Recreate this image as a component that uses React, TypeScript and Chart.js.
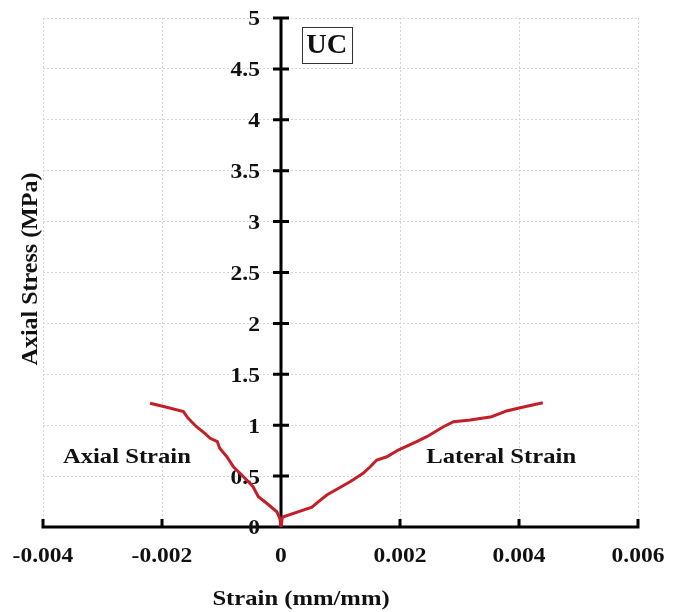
import React, { useEffect, useRef } from "react";
import { Chart, registerables } from "chart.js";

Chart.register(...registerables);

// Uniaxial compression test: axial stress vs. axial / lateral strain
const axialStrain = [0, -0.00002, -0.00007, -0.00024, -0.00038, -0.00047, -0.00063, -0.0008, -0.00091, -0.00103, -0.00107, -0.00119, -0.00128, -0.00142, -0.00156, -0.00164, -0.00192, -0.0022];
const axialStress = [0, 0.085, 0.15, 0.233, 0.298, 0.396, 0.494, 0.592, 0.69, 0.773, 0.838, 0.871, 0.92, 0.985, 1.068, 1.133, 1.176, 1.215];

const lateralStrain = [0, 0.00002, 0.00004, 0.00052, 0.00063, 0.00077, 0.00116, 0.00138, 0.0015, 0.00161, 0.00178, 0.00197, 0.00228, 0.00245, 0.00273, 0.0029, 0.00318, 0.00354, 0.00379, 0.00402, 0.0044];
const lateralStress = [0, 0.085, 0.1, 0.194, 0.249, 0.314, 0.445, 0.527, 0.592, 0.658, 0.69, 0.756, 0.838, 0.887, 0.985, 1.034, 1.051, 1.083, 1.14, 1.172, 1.221];

const xTicks = [-0.004, -0.002, 0, 0.002, 0.004, 0.006];
const xTickLabels = ["-0.004", "-0.002", "0", "0.002", "0.004", "0.006"];
const yTicks = [0, 0.5, 1, 1.5, 2, 2.5, 3, 3.5, 4, 4.5, 5];
const yTickLabels = ["0", "0.5", "1", "1.5", "2", "2.5", "3", "3.5", "4", "4.5", "5"];

const xTitle = "Strain (mm/mm)";
const yTitle = "Axial Stress (MPa)";
const testLabel = "UC";
const axialLabel = "Axial Strain";
const lateralLabel = "Lateral Strain";

const FONT = '"Liberation Serif", Tinos, "Times New Roman", Times, serif';
const LINE_RED = "#c41f28";

function drawText(
  ctx: CanvasRenderingContext2D,
  text: string,
  x: number,
  y: number,
  size: number,
  align: CanvasTextAlign,
  sx = 1.12
) {
  ctx.save();
  ctx.translate(x, y);
  ctx.scale(sx, 1);
  ctx.font = `bold ${size}px ${FONT}`;
  ctx.fillStyle = "#111";
  ctx.textAlign = align;
  ctx.textBaseline = "middle";
  ctx.fillText(text, 0, 0);
  ctx.restore();
}

// Axes crossing at the origin, cross ticks, labels and annotations
const axesPlugin = {
  id: "centerAxes",
  beforeDatasetsDraw(chart: any) {
    const ctx: CanvasRenderingContext2D = chart.ctx;
    const xs = chart.scales.x;
    const ys = chart.scales.y;
    const x0 = xs.getPixelForValue(0);
    const y0 = ys.getPixelForValue(0);
    const left = xs.getPixelForValue(xTicks[0]);
    const right = xs.getPixelForValue(xTicks[xTicks.length - 1]);
    const top = ys.getPixelForValue(yTicks[yTicks.length - 1]);

    ctx.save();
    ctx.strokeStyle = "#000";
    ctx.lineWidth = 3;
    ctx.lineCap = "butt";

    // horizontal axis with upward ticks
    ctx.beginPath();
    ctx.moveTo(left - 1.5, y0);
    ctx.lineTo(right + 1.5, y0);
    xTicks.forEach((t) => {
      if (t === 0) return;
      const px = xs.getPixelForValue(t);
      ctx.moveTo(px, y0);
      ctx.lineTo(px, y0 - 8);
    });
    ctx.stroke();

    // vertical axis with crossing ticks
    ctx.beginPath();
    ctx.moveTo(x0, y0);
    ctx.lineTo(x0, top);
    yTicks.forEach((t) => {
      if (t === 0) return;
      const py = ys.getPixelForValue(t);
      ctx.moveTo(x0 - 8, py);
      ctx.lineTo(x0 + 8, py);
    });
    ctx.stroke();
    ctx.restore();

    // tick labels
    yTicks.forEach((t, i) => {
      drawText(ctx, yTickLabels[i], x0 - 21, ys.getPixelForValue(t) + 2, 21, "right");
    });
    xTicks.forEach((t, i) => {
      drawText(ctx, xTickLabels[i], xs.getPixelForValue(t), 557, 21, "center");
    });

    // axis titles
    drawText(ctx, xTitle, 301, 599, 22, "center");
    ctx.save();
    ctx.translate(31, 269);
    ctx.rotate(-Math.PI / 2);
    ctx.font = `bold 24px ${FONT}`;
    ctx.fillStyle = "#111";
    ctx.textAlign = "center";
    ctx.textBaseline = "middle";
    ctx.fillText(yTitle, 0, 0);
    ctx.restore();

    // curve annotations
    drawText(ctx, axialLabel, xs.getPixelForValue(-0.00259), ys.getPixelForValue(0.68), 22, "center");
    drawText(ctx, lateralLabel, xs.getPixelForValue(0.0037), ys.getPixelForValue(0.68), 22, "center");

    // boxed test label
    const bx = xs.getPixelForValue(0.00077);
    const by = ys.getPixelForValue(4.73);
    ctx.save();
    ctx.strokeStyle = "#333";
    ctx.lineWidth = 1;
    ctx.strokeRect(Math.round(bx - 25) + 0.5, Math.round(by - 18) + 0.5, 50, 36);
    ctx.restore();
    drawText(ctx, testLabel, bx, by + 1, 27, "center", 1.05);
  },
};

export default function App() {
  const canvasRef = useRef<HTMLCanvasElement | null>(null);

  useEffect(() => {
    const canvas = canvasRef.current;
    if (!canvas) return;
    const toPoints = (xs: number[], ys: number[]) => xs.map((x, i) => ({ x, y: ys[i] }));

    const chart = new Chart(canvas, {
      type: "scatter",
      data: {
        datasets: [
          {
            label: axialLabel,
            data: toPoints(axialStrain, axialStress),
            showLine: true,
            borderColor: LINE_RED,
            borderWidth: 3,
            pointRadius: 0,
            tension: 0,
          },
          {
            label: lateralLabel,
            data: toPoints(lateralStrain, lateralStress),
            showLine: true,
            borderColor: LINE_RED,
            borderWidth: 3,
            pointRadius: 0,
            tension: 0,
          },
        ],
      },
      options: {
        responsive: false,
        animation: false,
        devicePixelRatio: 1,
        layout: { padding: { left: 43, right: 43, top: 18, bottom: 85 } },
        plugins: { legend: { display: false }, tooltip: { enabled: false } },
        scales: {
          x: {
            type: "linear",
            min: xTicks[0],
            max: xTicks[xTicks.length - 1],
            afterBuildTicks: (s: any) => {
              s.ticks = xTicks.map((v) => ({ value: v }));
            },
            ticks: { display: false },
            grid: { color: "#d6d6d6", lineWidth: 1, drawTicks: false },
            border: { display: false, dash: [2, 2] },
            afterFit: (s: any) => {
              s.height = 0;
            },
          },
          y: {
            type: "linear",
            min: yTicks[0],
            max: yTicks[yTicks.length - 1],
            afterBuildTicks: (s: any) => {
              s.ticks = yTicks.map((v) => ({ value: v }));
            },
            ticks: { display: false },
            grid: { color: "#d6d6d6", lineWidth: 1, drawTicks: false },
            border: { display: false, dash: [2, 2] },
            afterFit: (s: any) => {
              s.width = 0;
            },
          },
        },
      },
      plugins: [axesPlugin],
    });

    // redraw once the serif face is ready so canvas text uses it
    let alive = true;
    const fonts = (document as any).fonts;
    if (fonts && fonts.load) {
      Promise.all([
        fonts.load(`bold 21px "Liberation Serif"`),
        fonts.load(`bold 24px "Liberation Serif"`),
      ])
        .then(() => {
          if (alive) chart.update();
        })
        .catch(() => {});
    }

    return () => {
      alive = false;
      chart.destroy();
    };
  }, []);

  return (
    <div style={{ position: "absolute", left: 0, top: 0, width: 681, height: 612, background: "#fff" }}>
      <canvas ref={canvasRef} width={681} height={612} />
    </div>
  );
}
